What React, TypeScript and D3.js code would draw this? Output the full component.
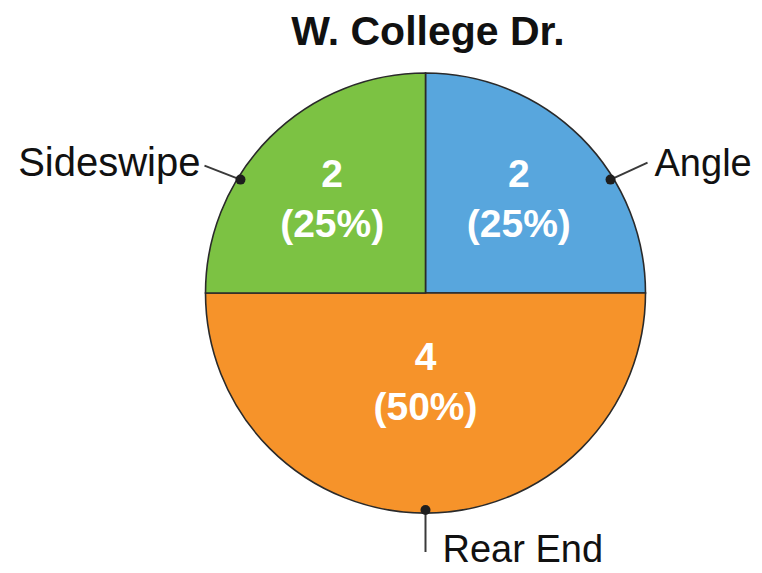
import React from "react";
import * as d3 from "d3";

const title = "W. College Dr.";
const categories = ["Angle", "Rear End", "Sideswipe"];
const values = [2, 4, 2];
const colors = ["#58A6DD", "#F6932A", "#7CC243"];

const W = 762;
const H = 573;
const cx = 425.5;
const cy = 293;
const R = 220;
const FONT = "'Liberation Sans', Arial, Helvetica, sans-serif";

export default function App() {
  const total = d3.sum(values);
  const data = categories.map((c, i) => ({ name: c, value: values[i], color: colors[i] }));
  const pie = d3.pie<any>().value((d) => d.value).sort(null).startAngle(0).endAngle(2 * Math.PI);
  const arcs = pie(data);
  const arc = d3.arc<any>().innerRadius(0).outerRadius(R);

  return (
    <svg width={W} height={H} style={{ position: "absolute", left: 0, top: 0, background: "#fff" }}>
      <text x={428} y={45} textAnchor="middle" fontFamily={FONT} fontWeight="bold" fontSize={41} fill="#111">
        {title}
      </text>
      <g transform={`translate(${cx},${cy})`}>
        {arcs.map((a, i) => (
          <path key={i} d={arc(a) || ""} fill={a.data.color} stroke="#2a2a2a" strokeWidth={1.6} />
        ))}
        {arcs.map((a, i) => {
          const span = a.endAngle - a.startAngle;
          const mid = (a.startAngle + a.endAngle) / 2;
          const lr = span > Math.PI * 0.9 ? 0.41 * R : 0.6 * R;
          const x = Math.sin(mid) * lr;
          const y = -Math.cos(mid) * lr;
          const pct = d3.format(".0%")(a.data.value / total);
          return (
            <g key={"l" + i} fontFamily={FONT} fontWeight="bold" fontSize={39} fill="#fff" textAnchor="middle">
              <text x={x} y={y - 13}>{a.data.value}</text>
              <text x={x} y={y + 37}>{`(${pct})`}</text>
            </g>
          );
        })}
        {arcs.map((a, i) => {
          const span = a.endAngle - a.startAngle;
          const mid = (a.startAngle + a.endAngle) / 2;
          let ang = mid;
          if (span < Math.PI * 0.9) {
            const side = Math.sin(mid) > 0 ? 1 : -1;
            ang = mid + side * (13.5 * Math.PI) / 180;
          }
          const dx = Math.sin(ang) * (R - 3);
          const dy = -Math.cos(ang) * (R - 3);
          let ex: number, ey: number, tx: number, ty: number, anchor: string, fs: number;
          if (span >= Math.PI * 0.9) {
            ex = dx;
            ey = dy + 42;
            tx = dx + 17;
            ty = dy + 52;
            anchor = "start";
            fs = 38;
          } else if (Math.sin(ang) > 0) {
            ex = dx + 37;
            ey = dy - 17;
            tx = ex + 7;
            ty = ey + 13;
            anchor = "start";
            fs = 38;
          } else {
            ex = dx - 36;
            ey = dy - 14;
            tx = ex - 4;
            ty = ey + 10;
            anchor = "end";
            fs = 40;
          }
          return (
            <g key={"o" + i}>
              <line x1={dx} y1={dy} x2={ex} y2={ey} stroke="#3a3a3a" strokeWidth={2} />
              <circle cx={dx} cy={dy} r={5} fill="#1e1e1e" />
              <text x={tx} y={ty} textAnchor={anchor} fontFamily={FONT} fontSize={fs} fill="#111">
                {a.data.name}
              </text>
            </g>
          );
        })}
      </g>
    </svg>
  );
}
